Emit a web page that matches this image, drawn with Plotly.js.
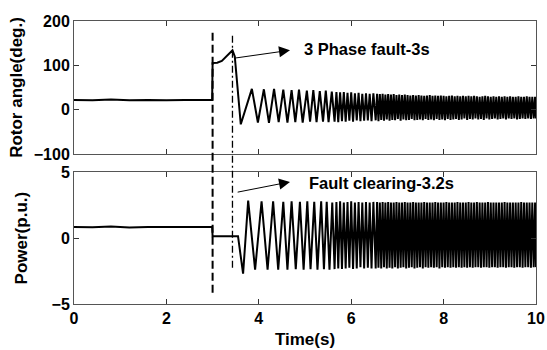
<!DOCTYPE html>
<html>
<head>
<meta charset="utf-8">
<script src="https://cdn.plot.ly/plotly-3.0.1.min.js"></script>
<style>html,body{margin:0;padding:0;background:#fff;}#chart{width:547px;height:350px;}</style>
</head>
<body>
<div id="chart"></div>
<script>
// ---- Data (extrema of the oscillations) ----
var rotorT = [0,0.4,0.8,1.2,1.6,2.0,2.4,2.8,2.99,
  3.0,3.1,3.2,3.3,3.38,3.43,3.48,3.56,3.61,
  3.85,3.98,4.11,4.22,4.33,4.43,4.53,4.62,4.71,4.79,
  4.87,4.95,5.04,5.11,5.18,5.25,5.32,5.39,5.45,5.51,5.58];
var rotorV = [22,21,23,21,22,21,22,21,22,
  105,106,110,120,130,134,120,20,-33,
  47,-29,46,-30,47,-28,45,-29,44,-28,
  45,-29,43,-27,44,-28,42,-27,43,-28,41];

var powerT = [0,0.4,0.8,1.2,1.6,2.0,2.4,2.8,2.99,
  3.0,3.55,3.66,3.77,
  3.92,4.06,4.19,4.31,4.42,4.53,4.62,4.71,4.80,4.89,
  4.97,5.05,5.12,5.20,5.27,5.35,5.41,5.47,5.53,5.59];
var powerV = [0.85,0.82,0.88,0.8,0.85,0.83,0.86,0.84,0.85,
  0.15,0.15,-2.7,2.85,
  -2.4,2.8,-2.4,2.8,-2.4,2.75,-2.4,2.8,-2.35,2.75,
  -2.4,2.8,-2.35,2.75,-2.4,2.8,-2.35,2.75,-2.4,2.7];

// dense oscillation region: extrema times shared by both signals
var denseT = [5.64,5.68,5.72,5.76,5.80,5.84,5.88,5.92,5.96,6.00,
  6.04,6.08,6.12,6.16,6.20,6.24,6.28,6.32,6.36,6.40,6.44,6.48,
  6.53,6.56,6.59,6.62,6.65,6.68,6.71,6.74,6.77,6.80,
  6.83,6.86,6.89,6.92,6.95,6.98,7.01,7.04,7.07,7.10,
  7.13,7.16,7.19,7.22,7.25,7.28,7.31,7.34,7.37,7.40,
  7.43,7.46,7.49,7.52,7.55,7.58,7.61,7.64,7.67,7.70,
  7.73,7.76,7.79,7.82,7.85,7.88,7.91,7.94,7.97,8.00,
  8.03,8.06,8.09,8.12,8.15,8.18,8.21,8.24,8.27,8.30,
  8.33,8.36,8.39,8.42,8.45,8.48,8.51,8.54,8.57,8.60,
  8.63,8.66,8.69,8.72,8.75,8.78,8.81,8.84,8.87,8.90,
  8.93,8.96,8.99,9.02,9.05,9.08,9.11,9.14,9.17,9.20,
  9.23,9.26,9.29,9.32,9.35,9.38,9.41,9.44,9.47,9.50,
  9.53,9.56,9.59,9.62,9.65,9.68,9.71,9.74,9.77,9.80,
  9.83,9.86,9.89,9.92,9.95,9.98,10.00];
var rotorDense = [-27,40,-28,39,-26,40,-27,38,-25,39,
  -27,37,-24,38,-26,36,-25,37,-24,36,-26,37,
  -24,36,-26,35,-23,36,-25,34,-22,35,
  -25,34,-23,35,-24,33,-21,34,-25,33,
  -22,34,-24,33,-23,32,-21,33,-24,32,
  -23,33,-22,32,-24,31,-21,32,-23,33,
  -22,31,-24,32,-21,31,-23,32,-22,31,
  -24,30,-21,31,-23,32,-22,30,-21,31,
  -23,30,-22,31,-20,30,-23,31,-21,30,
  -22,31,-20,30,-22,29,-21,30,-23,31,
  -20,30,-22,29,-21,30,-20,29,-22,30,
  -21,29,-20,30,-22,29,-20,30,-21,29,
  -20,29,-22,30,-21,29,-20,29,-21,30,
  -20,29,-21,29,-20,29,-20];
var powerDense = [-2.35,2.75,-2.3,2.8,-2.35,2.7,-2.3,2.75,-2.25,2.8,
  -2.35,2.7,-2.3,2.75,-2.2,2.7,-2.3,2.75,-2.25,2.7,-2.3,2.75,
  -2.3,2.75,-2.25,2.7,-2.3,2.75,-2.2,2.7,-2.3,2.75,
  -2.25,2.7,-2.3,2.7,-2.2,2.75,-2.3,2.7,-2.25,2.7,
  -2.2,2.75,-2.3,2.7,-2.25,2.7,-2.2,2.75,-2.3,2.7,
  -2.25,2.7,-2.2,2.7,-2.3,2.75,-2.2,2.7,-2.25,2.7,
  -2.2,2.7,-2.25,2.75,-2.2,2.7,-2.3,2.7,-2.2,2.7,
  -2.25,2.75,-2.2,2.7,-2.25,2.7,-2.2,2.7,-2.25,2.75,
  -2.2,2.7,-2.25,2.7,-2.2,2.7,-2.25,2.75,-2.2,2.7,
  -2.25,2.7,-2.2,2.75,-2.2,2.7,-2.25,2.7,-2.2,2.7,
  -2.2,2.75,-2.25,2.7,-2.2,2.7,-2.2,2.7,-2.25,2.7,
  -2.2,2.7,-2.2,2.75,-2.25,2.7,-2.2,2.7,-2.2,2.7,
  -2.25,2.7,-2.2,2.7,-2.2,2.75,-2.25,2.7,-2.2,2.7,
  -2.2,2.7,-2.25,2.7,-2.2,2.7,-2.2];

var xTicks = [0,2,4,6,8,10];
var rotorTicks = [-100,0,100,200];
var powerTicks = [-5,0,5];
var faultTime = 3.0;
var clearTime = 3.43;
var label1 = "3 Phase fault-3s";
var label2 = "Fault clearing-3.2s";

// ---- Plot ----
var FONT = "Liberation Sans, Arial, Helvetica, sans-serif";
var tickFont = {family: FONT, size: 16, color: "#000", weight: "bold"};
var titleFont = {family: FONT, size: 17, color: "#000", weight: "bold"};

var traces = [
  {x: rotorT.concat(denseT), y: rotorV.concat(rotorDense), type: "scatter", mode: "lines",
   line: {color: "#000", width: 2}, xaxis: "x", yaxis: "y", hoverinfo: "skip"},
  {x: powerT.concat(denseT), y: powerV.concat(powerDense), type: "scatter", mode: "lines",
   line: {color: "#000", width: 2}, xaxis: "x2", yaxis: "y2", hoverinfo: "skip"}
];

function axisBase() {
  return {
    showline: true, linecolor: "#555", linewidth: 1, mirror: "ticks",
    ticks: "inside", ticklen: 5, tickcolor: "#333", tickwidth: 1,
    showgrid: false, zeroline: false, tickfont: tickFont
  };
}

var xa = Object.assign(axisBase(), {domain: [0,1], range: [0,10], tickvals: xTicks, showticklabels: false, anchor: "y"});
var xa2 = Object.assign(axisBase(), {domain: [0,1], range: [0,10], tickvals: xTicks, ticktext: xTicks.map(String), anchor: "y2",
  title: {text: "Time(s)", font: titleFont, standoff: 6}});
var ya = Object.assign(axisBase(), {domain: [0.53,1], range: [-100,200], tickvals: rotorTicks, anchor: "x",
  title: {text: "Rotor angle(deg.)", font: titleFont, standoff: 6}});
var ya2 = Object.assign(axisBase(), {domain: [0,0.4655], range: [-5,5], tickvals: powerTicks, anchor: "x2",
  title: {text: "Power(p.u.)", font: titleFont, standoff: 19}});

var layout = {
  width: 547, height: 350,
  margin: {l: 74, r: 11, t: 21, b: 46},
  paper_bgcolor: "#fff", plot_bgcolor: "#fff",
  showlegend: false,
  xaxis: xa, yaxis: ya, xaxis2: xa2, yaxis2: ya2,
  shapes: [
    {type: "line", xref: "x", yref: "paper", x0: faultTime, x1: faultTime, y0: 0.04, y1: 0.967,
     line: {color: "#000", width: 2, dash: "8px,4px"}},
    {type: "line", xref: "x", yref: "paper", x0: clearTime, x1: clearTime, y0: 0.128, y1: 0.95,
     line: {color: "#000", width: 1.3, dash: "7px,3px,2px,3px"}}
  ],
  annotations: [
    {xref: "x", yref: "y", x: 4.675, y: 134, axref: "x", ayref: "y", ax: 3.46, ay: 116,
     text: "", showarrow: true, arrowhead: 2, arrowsize: 2.2, arrowwidth: 1, arrowcolor: "#000"},
    {xref: "x", yref: "y", x: 4.93, y: 136, text: label1, showarrow: false,
     xanchor: "left", yanchor: "middle", font: {family: FONT, size: 16.5, color: "#000", weight: "bold"}},
    {xref: "x2", yref: "y2", x: 4.675, y: 4.27, axref: "x2", ayref: "y2", ax: 3.51, ay: 3.47,
     text: "", showarrow: true, arrowhead: 2, arrowsize: 2.2, arrowwidth: 1, arrowcolor: "#000"},
    {xref: "x2", yref: "y2", x: 5.04, y: 4.19, text: label2, showarrow: false,
     xanchor: "left", yanchor: "middle", font: {family: FONT, size: 16.5, color: "#000", weight: "bold"}}
  ]
};

Plotly.newPlot("chart", traces, layout, {staticPlot: true, displayModeBar: false});
</script>
</body>
</html>
